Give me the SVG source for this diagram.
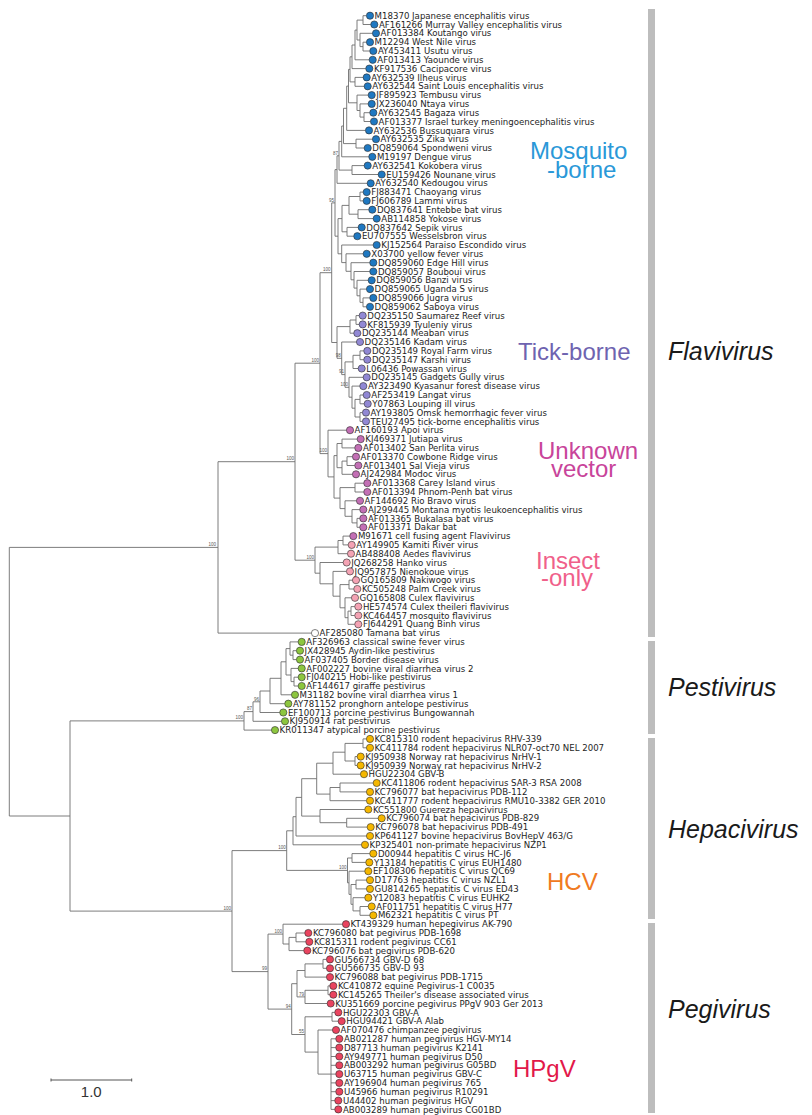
<svg xmlns="http://www.w3.org/2000/svg" width="812" height="1115" viewBox="0 0 812 1115">
<style>
.tree path{fill:none;stroke:#6e6e6e;stroke-width:0.9}
.leaf circle{stroke:#2a2a2a;stroke-width:0.6}
.leaf text{font-family:"DejaVu Sans",sans-serif;font-size:8.6px;fill:#1e1e1e}
.mb circle{fill:#1f78c1}
.tb circle{fill:#9188d4}
.uv circle{fill:#c36fb5}
.io circle{fill:#f4a3b4}
.tm circle{fill:#ffffff}
.pe circle{fill:#8dc63f}
.hc circle{fill:#f5b700}
.pg circle{fill:#e9445f}
.bs{font-family:"Liberation Sans",sans-serif;font-size:4.5px;fill:#555;text-anchor:end}
.grp{font-family:"Liberation Sans",sans-serif;font-size:24px}
.genus{font-family:"Liberation Sans",sans-serif;font-style:italic;font-size:25px;fill:#1a1a1a}
.bar{fill:#bdbdbd}
</style>
<rect width="812" height="1115" fill="#ffffff"/>
<g id="connectors" class="tree">
<path d="M366.4 15.7H363V24.5H370.7"/>
<path d="M366.4 42.2H363V51H369.7"/>
<path d="M372.4 33.3H360V46.6H363"/>
<path d="M363 20.1H357V40H360"/>
<path d="M357 30.1H355V59.8H369.1"/>
<path d="M355 45H352V68.6H365.7"/>
<path d="M363.1 77.4H355V86.3H364.1"/>
<path d="M352 56.8H350V81.9H355"/>
<path d="M369.7 112.7H364V121.5H370.4"/>
<path d="M368.1 103.9H360V117.1H364"/>
<path d="M368.1 95.1H357V110.5H360"/>
<path d="M350 69.4H348.5V102.8H357"/>
<path d="M348.5 86.1H346.7V130.4H365.4"/>
<path d="M372.4 139.2H356V148H364.1"/>
<path d="M346.7 108.3H343.5V143.6H356"/>
<path d="M343.5 126H341.7V156.8H368.7"/>
<path d="M364.1 165.6H352V174.5H378.1"/>
<path d="M341.7 141.4H339V170.1H352"/>
<path d="M339 155.8H337V183.3H367.1"/>
<path d="M363.1 192.1H360V200.9H363.1"/>
<path d="M368.7 209.7H358V218.6H373.1"/>
<path d="M358.1 227.4H347V236.2H353.7"/>
<path d="M360 196.5H349V214.2H358"/>
<path d="M349 205.4H342V231.8H347"/>
<path d="M369.7 297.9H363V306.8H366.4"/>
<path d="M366.4 289.1H360V302.4H363"/>
<path d="M368.1 280.3H357V295.8H360"/>
<path d="M369.7 271.5H354V288.1H357"/>
<path d="M369.7 262.7H351V279.8H354"/>
<path d="M363.1 253.8H346V271.3H351"/>
<path d="M373.1 245H341.7V262.6H346"/>
<path d="M342 218.6H338V253.8H341.7"/>
<path d="M337 169.6H335V236.2H338"/>
<path d="M359.1 315.6H356V324.4H359.1"/>
<path d="M356 320H350V333.2H353.7"/>
<path d="M363.7 350.9H360V359.7H363.7"/>
<path d="M360 355.3H353V368.5H358.1"/>
<path d="M363.1 395H360V403.8H364.1"/>
<path d="M362.4 412.6H360V421.4H362.4"/>
<path d="M360 399.4H355V417H360"/>
<path d="M359.7 386.1H352V408.2H355"/>
<path d="M363.1 377.3H349V397.2H352"/>
<path d="M353 361.9H345V387.3H349"/>
<path d="M356.4 342H341.7V374.6H345"/>
<path d="M350 326.6H337V358.3H341.7"/>
<path d="M335 202.9H331.7V342.5H337"/>
<path d="M357.1 439.1H342V447.9H354.7"/>
<path d="M352.4 456.7H347V465.5H354.7"/>
<path d="M347 461.1H342V474.3H352.4"/>
<path d="M342 443.5H337V467.7H342"/>
<path d="M363.7 483.2H355V492H363.7"/>
<path d="M359.7 518.4H357V527.3H359.7"/>
<path d="M359.7 509.6H352V522.9H357"/>
<path d="M356.4 500.8H345V516.3H352"/>
<path d="M355 487.6H340V508.6H345"/>
<path d="M337 455.6H334V498.1H340"/>
<path d="M346.4 430.2H328V476.9H334"/>
<path d="M331.7 272.7H320V453.6H328"/>
<path d="M349.7 536.1H343V544.9H348.1"/>
<path d="M343 540.5H338V553.7H347.4"/>
<path d="M352.4 580.2H349V589H353.7"/>
<path d="M354.7 606.6H351V615.5H354.7"/>
<path d="M351 611.1H348V624.3H354.7"/>
<path d="M351.4 597.8H345V617.7H348"/>
<path d="M349 584.6H340V607.8H345"/>
<path d="M346.4 571.4H333V596.2H340"/>
<path d="M343.1 562.5H320V583.8H333"/>
<path d="M338 547.1H315V573.2H320"/>
<path d="M320 363.2H295V560.2H315"/>
<path d="M295 461.7H218V633.1H311.4"/>
<path d="M296.4 650.7H293V659.6H296.4"/>
<path d="M298.1 641.9H290V655.2H293"/>
<path d="M298.1 677.2H294V686H298.1"/>
<path d="M298.1 668.4H291V681.6H294"/>
<path d="M290 648.6H286V675H291"/>
<path d="M286 661.8H281V694.8H291.4"/>
<path d="M281 678.3H270V703.7H284.7"/>
<path d="M270 691H260V712.5H279.7"/>
<path d="M260 701.8H253V721.3H281.4"/>
<path d="M253 711.6H244V730.1H271.4"/>
<path d="M366.4 738.9H363V747.8H366.4"/>
<path d="M357.1 756.6H355V765.4H357.1"/>
<path d="M363 743.4H345V761H355"/>
<path d="M345 752.2H333V774.2H360.4"/>
<path d="M373.1 783H340V791.9H366.4"/>
<path d="M340 787.5H330V800.7H366.4"/>
<path d="M333 763.2H316.7V794.1H330"/>
<path d="M378.1 818.3H346.7V827.1H367.1"/>
<path d="M364.7 809.5H320V822.7H346.7"/>
<path d="M316.7 778.7H301.7V816.1H320"/>
<path d="M301.7 797.4H296V836H366.4"/>
<path d="M296 816.7H293V844.8H361.4"/>
<path d="M369.7 853.6H352V862.4H365.7"/>
<path d="M366.4 880.1H356V888.9H366.4"/>
<path d="M368.1 906.5H360V915.3H369.7"/>
<path d="M364.7 897.7H353V910.9H360"/>
<path d="M356 884.5H351V904.3H353"/>
<path d="M364.7 871.2H349V894.4H351"/>
<path d="M352 858H347.5V882.8H349"/>
<path d="M293 830.8H286.7V870.4H347.5"/>
<path d="M304.7 933H296V941.8H305.7"/>
<path d="M296 937.4H289V950.6H303.7"/>
<path d="M342.4 924.2H283V944H289"/>
<path d="M326.4 959.4H323V968.3H326.4"/>
<path d="M323 963.9H305V977.1H326.4"/>
<path d="M329.7 985.9H328V994.7H329.7"/>
<path d="M328 990.3H305V1003.5H327.1"/>
<path d="M305 970.5H297V996.9H305"/>
<path d="M334.7 1012.4H332V1021.2H338.1"/>
<path d="M335.7 1038.8H331V1109.4H334.7M331 1047.6H335.7M331 1056.5H335.7M331 1065.3H335.7M331 1074.1H335.7M331 1082.9H335.7M331 1091.7H335.7M331 1100.6H334.7"/>
<path d="M332.4 1030H318V1074.1H331"/>
<path d="M332 1016.8H305V1052.1H318"/>
<path d="M297 983.7H291.7V1034.5H305"/>
<path d="M283 934.1H268V1009.1H291.7"/>
<path d="M286.7 850.6H232V971.6H268"/>
<path d="M244 720.9H70V911.1H232"/>
<path d="M218 547.4H9.3V816H70"/>
</g>
<g id="support-values">
<text class="bs" x="216" y="545.5">100</text>
<text class="bs" x="243" y="719">100</text>
<text class="bs" x="231" y="909.5">100</text>
<text class="bs" x="319" y="361.5">100</text>
<text class="bs" x="330.5" y="271">100</text>
<text class="bs" x="294" y="460">100</text>
<text class="bs" x="327" y="452">100</text>
<text class="bs" x="314" y="558.5">100</text>
<text class="bs" x="285.7" y="849">100</text>
<text class="bs" x="346.5" y="869">100</text>
<text class="bs" x="267" y="970">99</text>
<text class="bs" x="334" y="201.5">95</text>
<text class="bs" x="338" y="154.5">87</text>
<text class="bs" x="340.7" y="357">98</text>
<text class="bs" x="344" y="373">91</text>
<text class="bs" x="348" y="386">100</text>
<text class="bs" x="252" y="710">87</text>
<text class="bs" x="259" y="700.5">96</text>
<text class="bs" x="282" y="933">100</text>
<text class="bs" x="290.7" y="1008">94</text>
<text class="bs" x="304" y="1033">55</text>
<text class="bs" x="304" y="996">79</text>
</g>
<g id="leaves">
<g id="l0" class="leaf mb"><circle cx="370" cy="15.7" r="3.6"/><text x="374.6" y="18.8">M18370 Japanese encephalitis virus</text></g>
<g id="l1" class="leaf mb"><circle cx="374.3" cy="24.5" r="3.6"/><text x="378.9" y="27.6">AF161266 Murray Valley encephalitis virus</text></g>
<g id="l2" class="leaf mb"><circle cx="376" cy="33.3" r="3.6"/><text x="380.6" y="36.4">AF013384 Koutango virus</text></g>
<g id="l3" class="leaf mb"><circle cx="370" cy="42.2" r="3.6"/><text x="374.6" y="45.3">M12294 West Nile virus</text></g>
<g id="l4" class="leaf mb"><circle cx="373.3" cy="51" r="3.6"/><text x="377.9" y="54.1">AY453411 Usutu virus</text></g>
<g id="l5" class="leaf mb"><circle cx="372.7" cy="59.8" r="3.6"/><text x="377.3" y="62.9">AF013413 Yaounde virus</text></g>
<g id="l6" class="leaf mb"><circle cx="369.3" cy="68.6" r="3.6"/><text x="373.9" y="71.7">KF917536 Cacipacore virus</text></g>
<g id="l7" class="leaf mb"><circle cx="366.7" cy="77.4" r="3.6"/><text x="371.3" y="80.5">AY632539 Ilheus virus</text></g>
<g id="l8" class="leaf mb"><circle cx="367.7" cy="86.3" r="3.6"/><text x="372.3" y="89.4">AY632544 Saint Louis encephalitis virus</text></g>
<g id="l9" class="leaf mb"><circle cx="371.7" cy="95.1" r="3.6"/><text x="376.3" y="98.2">JF895923 Tembusu virus</text></g>
<g id="l10" class="leaf mb"><circle cx="371.7" cy="103.9" r="3.6"/><text x="376.3" y="107">JX236040 Ntaya virus</text></g>
<g id="l11" class="leaf mb"><circle cx="373.3" cy="112.7" r="3.6"/><text x="377.9" y="115.8">AY632545 Bagaza virus</text></g>
<g id="l12" class="leaf mb"><circle cx="374" cy="121.5" r="3.6"/><text x="378.6" y="124.6">AF013377 Israel turkey meningoencephalitis virus</text></g>
<g id="l13" class="leaf mb"><circle cx="369" cy="130.4" r="3.6"/><text x="373.6" y="133.5">AY632536 Bussuquara virus</text></g>
<g id="l14" class="leaf mb"><circle cx="376" cy="139.2" r="3.6"/><text x="380.6" y="142.3">AY632535 Zika virus</text></g>
<g id="l15" class="leaf mb"><circle cx="367.7" cy="148" r="3.6"/><text x="372.3" y="151.1">DQ859064 Spondweni virus</text></g>
<g id="l16" class="leaf mb"><circle cx="372.3" cy="156.8" r="3.6"/><text x="376.9" y="159.9">M19197 Dengue virus</text></g>
<g id="l17" class="leaf mb"><circle cx="367.7" cy="165.6" r="3.6"/><text x="372.3" y="168.7">AY632541 Kokobera virus</text></g>
<g id="l18" class="leaf mb"><circle cx="381.7" cy="174.5" r="3.6"/><text x="386.3" y="177.6">EU159426 Nounane virus</text></g>
<g id="l19" class="leaf mb"><circle cx="370.7" cy="183.3" r="3.6"/><text x="375.3" y="186.4">AY632540 Kedougou virus</text></g>
<g id="l20" class="leaf mb"><circle cx="366.7" cy="192.1" r="3.6"/><text x="371.3" y="195.2">FJ883471 Chaoyang virus</text></g>
<g id="l21" class="leaf mb"><circle cx="366.7" cy="200.9" r="3.6"/><text x="371.3" y="204">FJ606789 Lammi virus</text></g>
<g id="l22" class="leaf mb"><circle cx="372.3" cy="209.7" r="3.6"/><text x="376.9" y="212.8">DQ837641 Entebbe bat virus</text></g>
<g id="l23" class="leaf mb"><circle cx="376.7" cy="218.6" r="3.6"/><text x="381.3" y="221.7">AB114858 Yokose virus</text></g>
<g id="l24" class="leaf mb"><circle cx="361.7" cy="227.4" r="3.6"/><text x="366.3" y="230.5">DQ837642 Sepik virus</text></g>
<g id="l25" class="leaf mb"><circle cx="357.3" cy="236.2" r="3.6"/><text x="361.9" y="239.3">EU707555 Wesselsbron virus</text></g>
<g id="l26" class="leaf mb"><circle cx="376.7" cy="245" r="3.6"/><text x="381.3" y="248.1">KJ152564 Paraiso Escondido virus</text></g>
<g id="l27" class="leaf mb"><circle cx="366.7" cy="253.8" r="3.6"/><text x="371.3" y="256.9">X03700 yellow fever virus</text></g>
<g id="l28" class="leaf mb"><circle cx="373.3" cy="262.7" r="3.6"/><text x="377.9" y="265.8">DQ859060 Edge Hill virus</text></g>
<g id="l29" class="leaf mb"><circle cx="373.3" cy="271.5" r="3.6"/><text x="377.9" y="274.6">DQ859057 Bouboui virus</text></g>
<g id="l30" class="leaf mb"><circle cx="371.7" cy="280.3" r="3.6"/><text x="376.3" y="283.4">DQ859056 Banzi virus</text></g>
<g id="l31" class="leaf mb"><circle cx="370" cy="289.1" r="3.6"/><text x="374.6" y="292.2">DQ859065 Uganda S virus</text></g>
<g id="l32" class="leaf mb"><circle cx="373.3" cy="297.9" r="3.6"/><text x="377.9" y="301">DQ859066 Jugra virus</text></g>
<g id="l33" class="leaf mb"><circle cx="370" cy="306.8" r="3.6"/><text x="374.6" y="309.9">DQ859062 Saboya virus</text></g>
<g id="l34" class="leaf tb"><circle cx="362.7" cy="315.6" r="3.6"/><text x="367.3" y="318.7">DQ235150 Saumarez Reef virus</text></g>
<g id="l35" class="leaf tb"><circle cx="362.7" cy="324.4" r="3.6"/><text x="367.3" y="327.5">KF815939 Tyuleniy virus</text></g>
<g id="l36" class="leaf tb"><circle cx="357.3" cy="333.2" r="3.6"/><text x="361.9" y="336.3">DQ235144 Meaban virus</text></g>
<g id="l37" class="leaf tb"><circle cx="360" cy="342" r="3.6"/><text x="364.6" y="345.1">DQ235146 Kadam virus</text></g>
<g id="l38" class="leaf tb"><circle cx="367.3" cy="350.9" r="3.6"/><text x="371.9" y="354">DQ235149 Royal Farm virus</text></g>
<g id="l39" class="leaf tb"><circle cx="367.3" cy="359.7" r="3.6"/><text x="371.9" y="362.8">DQ235147 Karshi virus</text></g>
<g id="l40" class="leaf tb"><circle cx="361.7" cy="368.5" r="3.6"/><text x="366.3" y="371.6">L06436 Powassan virus</text></g>
<g id="l41" class="leaf tb"><circle cx="366.7" cy="377.3" r="3.6"/><text x="371.3" y="380.4">DQ235145 Gadgets Gully virus</text></g>
<g id="l42" class="leaf tb"><circle cx="363.3" cy="386.1" r="3.6"/><text x="367.9" y="389.2">AY323490 Kyasanur forest disease virus</text></g>
<g id="l43" class="leaf tb"><circle cx="366.7" cy="395" r="3.6"/><text x="371.3" y="398.1">AF253419 Langat virus</text></g>
<g id="l44" class="leaf tb"><circle cx="367.7" cy="403.8" r="3.6"/><text x="372.3" y="406.9">Y07863 Louping ill virus</text></g>
<g id="l45" class="leaf tb"><circle cx="366" cy="412.6" r="3.6"/><text x="370.6" y="415.7">AY193805 Omsk hemorrhagic fever virus</text></g>
<g id="l46" class="leaf tb"><circle cx="366" cy="421.4" r="3.6"/><text x="370.6" y="424.5">TEU27495 tick-borne encephalitis virus</text></g>
<g id="l47" class="leaf uv"><circle cx="350" cy="430.2" r="3.6"/><text x="354.6" y="433.3">AF160193 Apoi virus</text></g>
<g id="l48" class="leaf uv"><circle cx="360.7" cy="439.1" r="3.6"/><text x="365.3" y="442.2">KJ469371 Jutiapa virus</text></g>
<g id="l49" class="leaf uv"><circle cx="358.3" cy="447.9" r="3.6"/><text x="362.9" y="451">AF013402 San Perlita virus</text></g>
<g id="l50" class="leaf uv"><circle cx="356" cy="456.7" r="3.6"/><text x="360.6" y="459.8">AF013370 Cowbone Ridge virus</text></g>
<g id="l51" class="leaf uv"><circle cx="358.3" cy="465.5" r="3.6"/><text x="362.9" y="468.6">AF013401 Sal Vieja virus</text></g>
<g id="l52" class="leaf uv"><circle cx="356" cy="474.3" r="3.6"/><text x="360.6" y="477.4">AJ242984 Modoc virus</text></g>
<g id="l53" class="leaf uv"><circle cx="367.3" cy="483.2" r="3.6"/><text x="371.9" y="486.3">AF013368 Carey Island virus</text></g>
<g id="l54" class="leaf uv"><circle cx="367.3" cy="492" r="3.6"/><text x="371.9" y="495.1">AF013394 Phnom-Penh bat virus</text></g>
<g id="l55" class="leaf uv"><circle cx="360" cy="500.8" r="3.6"/><text x="364.6" y="503.9">AF144692 Rio Bravo virus</text></g>
<g id="l56" class="leaf uv"><circle cx="363.3" cy="509.6" r="3.6"/><text x="367.9" y="512.7">AJ299445 Montana myotis leukoencephalitis virus</text></g>
<g id="l57" class="leaf uv"><circle cx="363.3" cy="518.4" r="3.6"/><text x="367.9" y="521.5">AF013365 Bukalasa bat virus</text></g>
<g id="l58" class="leaf uv"><circle cx="363.3" cy="527.3" r="3.6"/><text x="367.9" y="530.4">AF013371 Dakar bat</text></g>
<g id="l59" class="leaf uv"><circle cx="353.3" cy="536.1" r="3.6"/><text x="357.9" y="539.2">M91671 cell fusing agent Flavivirus</text></g>
<g id="l60" class="leaf io"><circle cx="351.7" cy="544.9" r="3.6"/><text x="356.3" y="548">AY149905 Kamiti River virus</text></g>
<g id="l61" class="leaf io"><circle cx="351" cy="553.7" r="3.6"/><text x="355.6" y="556.8">AB488408 Aedes flavivirus</text></g>
<g id="l62" class="leaf io"><circle cx="346.7" cy="562.5" r="3.6"/><text x="351.3" y="565.6">JQ268258 Hanko virus</text></g>
<g id="l63" class="leaf io"><circle cx="350" cy="571.4" r="3.6"/><text x="354.6" y="574.5">JQ957875 Nienokoue virus</text></g>
<g id="l64" class="leaf io"><circle cx="356" cy="580.2" r="3.6"/><text x="360.6" y="583.3">GQ165809 Nakiwogo virus</text></g>
<g id="l65" class="leaf io"><circle cx="357.3" cy="589" r="3.6"/><text x="361.9" y="592.1">KC505248 Palm Creek virus</text></g>
<g id="l66" class="leaf io"><circle cx="355" cy="597.8" r="3.6"/><text x="359.6" y="600.9">GQ165808 Culex flavivirus</text></g>
<g id="l67" class="leaf io"><circle cx="358.3" cy="606.6" r="3.6"/><text x="362.9" y="609.7">HE574574 Culex theileri flavivirus</text></g>
<g id="l68" class="leaf io"><circle cx="358.3" cy="615.5" r="3.6"/><text x="362.9" y="618.6">KC464457 mosquito flavivirus</text></g>
<g id="l69" class="leaf io"><circle cx="358.3" cy="624.3" r="3.6"/><text x="362.9" y="627.4">FJ644291 Quang Binh virus</text></g>
<g id="l70" class="leaf tm"><circle cx="315" cy="633.1" r="3.6"/><text x="319.6" y="636.2">AF285080 Tamana bat virus</text></g>
<g id="l71" class="leaf pe"><circle cx="301.7" cy="641.9" r="3.6"/><text x="306.3" y="645">AF326963 classical swine fever virus</text></g>
<g id="l72" class="leaf pe"><circle cx="300" cy="650.7" r="3.6"/><text x="304.6" y="653.8">JX428945 Aydin-like pestivirus</text></g>
<g id="l73" class="leaf pe"><circle cx="300" cy="659.6" r="3.6"/><text x="304.6" y="662.7">AF037405 Border disease virus</text></g>
<g id="l74" class="leaf pe"><circle cx="301.7" cy="668.4" r="3.6"/><text x="306.3" y="671.5">AF002227 bovine viral diarrhea virus 2</text></g>
<g id="l75" class="leaf pe"><circle cx="301.7" cy="677.2" r="3.6"/><text x="306.3" y="680.3">FJ040215 Hobi-like pestivirus</text></g>
<g id="l76" class="leaf pe"><circle cx="301.7" cy="686" r="3.6"/><text x="306.3" y="689.1">AF144617 giraffe pestivirus</text></g>
<g id="l77" class="leaf pe"><circle cx="295" cy="694.8" r="3.6"/><text x="299.6" y="697.9">M31182 bovine viral diarrhea virus 1</text></g>
<g id="l78" class="leaf pe"><circle cx="288.3" cy="703.7" r="3.6"/><text x="292.9" y="706.8">AY781152 pronghorn antelope pestivirus</text></g>
<g id="l79" class="leaf pe"><circle cx="283.3" cy="712.5" r="3.6"/><text x="287.9" y="715.6">EF100713 porcine pestivirus Bungowannah</text></g>
<g id="l80" class="leaf pe"><circle cx="285" cy="721.3" r="3.6"/><text x="289.6" y="724.4">KJ950914 rat pestivirus</text></g>
<g id="l81" class="leaf pe"><circle cx="275" cy="730.1" r="3.6"/><text x="279.6" y="733.2">KR011347 atypical porcine pestivirus</text></g>
<g id="l82" class="leaf hc"><circle cx="370" cy="738.9" r="3.6"/><text x="374.6" y="742">KC815310 rodent hepacivirus RHV-339</text></g>
<g id="l83" class="leaf hc"><circle cx="370" cy="747.8" r="3.6"/><text x="374.6" y="750.9">KC411784 rodent hepacivirus NLR07-oct70 NEL 2007</text></g>
<g id="l84" class="leaf hc"><circle cx="360.7" cy="756.6" r="3.6"/><text x="365.3" y="759.7">KJ950938 Norway rat hepacivirus NrHV-1</text></g>
<g id="l85" class="leaf hc"><circle cx="360.7" cy="765.4" r="3.6"/><text x="365.3" y="768.5">KJ950939 Norway rat hepacivirus NrHV-2</text></g>
<g id="l86" class="leaf hc"><circle cx="364" cy="774.2" r="3.6"/><text x="368.6" y="777.3">HGU22304 GBV-B</text></g>
<g id="l87" class="leaf hc"><circle cx="376.7" cy="783" r="3.6"/><text x="381.3" y="786.1">KC411806 rodent hepacivirus SAR-3 RSA 2008</text></g>
<g id="l88" class="leaf hc"><circle cx="370" cy="791.9" r="3.6"/><text x="374.6" y="795">KC796077 bat hepacivirus PDB-112</text></g>
<g id="l89" class="leaf hc"><circle cx="370" cy="800.7" r="3.6"/><text x="374.6" y="803.8">KC411777 rodent hepacivirus RMU10-3382 GER 2010</text></g>
<g id="l90" class="leaf hc"><circle cx="368.3" cy="809.5" r="3.6"/><text x="372.9" y="812.6">KC551800 Guereza hepacivirus</text></g>
<g id="l91" class="leaf hc"><circle cx="381.7" cy="818.3" r="3.6"/><text x="386.3" y="821.4">KC796074 bat hepacivirus PDB-829</text></g>
<g id="l92" class="leaf hc"><circle cx="370.7" cy="827.1" r="3.6"/><text x="375.3" y="830.2">KC796078 bat hepacivirus PDB-491</text></g>
<g id="l93" class="leaf hc"><circle cx="370" cy="836" r="3.6"/><text x="374.6" y="839.1">KP641127 bovine hepacivirus BovHepV 463/G</text></g>
<g id="l94" class="leaf hc"><circle cx="365" cy="844.8" r="3.6"/><text x="369.6" y="847.9">KP325401 non-primate hepacivirus NZP1</text></g>
<g id="l95" class="leaf hc"><circle cx="373.3" cy="853.6" r="3.6"/><text x="377.9" y="856.7">D00944 hepatitis C virus HC-J6</text></g>
<g id="l96" class="leaf hc"><circle cx="369.3" cy="862.4" r="3.6"/><text x="373.9" y="865.5">Y13184 hepatitis C virus EUH1480</text></g>
<g id="l97" class="leaf hc"><circle cx="368.3" cy="871.2" r="3.6"/><text x="372.9" y="874.3">EF108306 hepatitis C virus QC69</text></g>
<g id="l98" class="leaf hc"><circle cx="370" cy="880.1" r="3.6"/><text x="374.6" y="883.2">D17763 hepatitis C virus NZL1</text></g>
<g id="l99" class="leaf hc"><circle cx="370" cy="888.9" r="3.6"/><text x="374.6" y="892">GU814265 hepatitis C virus ED43</text></g>
<g id="l100" class="leaf hc"><circle cx="368.3" cy="897.7" r="3.6"/><text x="372.9" y="900.8">Y12083 hepatitis C virus EUHK2</text></g>
<g id="l101" class="leaf hc"><circle cx="371.7" cy="906.5" r="3.6"/><text x="376.3" y="909.6">AF011751 hepatitis C virus H77</text></g>
<g id="l102" class="leaf hc"><circle cx="373.3" cy="915.3" r="3.6"/><text x="377.9" y="918.4">M62321 hepatitis C virus PT</text></g>
<g id="l103" class="leaf pg"><circle cx="346" cy="924.2" r="3.6"/><text x="350.6" y="927.3">KT439329 human hepegivirus AK-790</text></g>
<g id="l104" class="leaf pg"><circle cx="308.3" cy="933" r="3.6"/><text x="312.9" y="936.1">KC796080 bat pegivirus PDB-1698</text></g>
<g id="l105" class="leaf pg"><circle cx="309.3" cy="941.8" r="3.6"/><text x="313.9" y="944.9">KC815311 rodent pegivirus CC61</text></g>
<g id="l106" class="leaf pg"><circle cx="307.3" cy="950.6" r="3.6"/><text x="311.9" y="953.7">KC796076 bat pegivirus PDB-620</text></g>
<g id="l107" class="leaf pg"><circle cx="330" cy="959.4" r="3.6"/><text x="334.6" y="962.5">GU566734 GBV-D 68</text></g>
<g id="l108" class="leaf pg"><circle cx="330" cy="968.3" r="3.6"/><text x="334.6" y="971.4">GU566735 GBV-D 93</text></g>
<g id="l109" class="leaf pg"><circle cx="330" cy="977.1" r="3.6"/><text x="334.6" y="980.2">KC796088 bat pegivirus PDB-1715</text></g>
<g id="l110" class="leaf pg"><circle cx="333.3" cy="985.9" r="3.6"/><text x="337.9" y="989">KC410872 equine Pegivirus-1 C0035</text></g>
<g id="l111" class="leaf pg"><circle cx="333.3" cy="994.7" r="3.6"/><text x="337.9" y="997.8">KC145265 Theiler's disease associated virus</text></g>
<g id="l112" class="leaf pg"><circle cx="330.7" cy="1003.5" r="3.6"/><text x="335.3" y="1006.6">KU351669 porcine pegivirus PPgV 903 Ger 2013</text></g>
<g id="l113" class="leaf pg"><circle cx="338.3" cy="1012.4" r="3.6"/><text x="342.9" y="1015.5">HGU22303 GBV-A</text></g>
<g id="l114" class="leaf pg"><circle cx="341.7" cy="1021.2" r="3.6"/><text x="346.3" y="1024.3">HGU94421 GBV-A Alab</text></g>
<g id="l115" class="leaf pg"><circle cx="336" cy="1030" r="3.6"/><text x="340.6" y="1033.1">AF070476 chimpanzee pegivirus</text></g>
<g id="l116" class="leaf pg"><circle cx="339.3" cy="1038.8" r="3.6"/><text x="343.9" y="1041.9">AB021287 human pegivirus HGV-MY14</text></g>
<g id="l117" class="leaf pg"><circle cx="339.3" cy="1047.6" r="3.6"/><text x="343.9" y="1050.7">D87713 human pegivirus K2141</text></g>
<g id="l118" class="leaf pg"><circle cx="339.3" cy="1056.5" r="3.6"/><text x="343.9" y="1059.6">AY949771 human pegivirus D50</text></g>
<g id="l119" class="leaf pg"><circle cx="339.3" cy="1065.3" r="3.6"/><text x="343.9" y="1068.4">AB003292 human pegivirus G05BD</text></g>
<g id="l120" class="leaf pg"><circle cx="339.3" cy="1074.1" r="3.6"/><text x="343.9" y="1077.2">U63715 human pegivirus GBV-C</text></g>
<g id="l121" class="leaf pg"><circle cx="339.3" cy="1082.9" r="3.6"/><text x="343.9" y="1086">AY196904 human pegivirus 765</text></g>
<g id="l122" class="leaf pg"><circle cx="339.3" cy="1091.7" r="3.6"/><text x="343.9" y="1094.8">U45966 human pegivirus R10291</text></g>
<g id="l123" class="leaf pg"><circle cx="338.3" cy="1100.6" r="3.6"/><text x="342.9" y="1103.7">U44402 human pegivirus HGV</text></g>
<g id="l124" class="leaf pg"><circle cx="338.3" cy="1109.4" r="3.6"/><text x="342.9" y="1112.5">AB003289 human pegivirus CG01BD</text></g>
</g>
<g id="group-labels">
<text class="grp" fill="#2a98d8"><tspan x="530" y="159">Mosquito</tspan><tspan x="547" y="178">-borne</tspan></text>
<text class="grp" x="518" y="360" fill="#6e63b0">Tick-borne</text>
<text class="grp" fill="#c8449a"><tspan x="538" y="459">Unknown</tspan><tspan x="551" y="477">vector</tspan></text>
<text class="grp" fill="#f0608a"><tspan x="536" y="569">Insect</tspan><tspan x="541" y="586">-only</tspan></text>
<text class="grp" x="547" y="890" fill="#f07a22">HCV</text>
<text class="grp" x="513" y="1076.7" fill="#e2184a">HPgV</text>
</g>
<g id="genus-bars">
<rect class="bar" x="648" y="9" width="7" height="628"/>
<rect class="bar" x="648" y="641" width="7" height="93"/>
<rect class="bar" x="648" y="738" width="7" height="181"/>
<rect class="bar" x="648" y="923" width="7" height="190"/>
<text class="genus" x="668" y="360">Flavivirus</text>
<text class="genus" x="668" y="696">Pestivirus</text>
<text class="genus" x="668" y="838">Hepacivirus</text>
<text class="genus" x="668" y="1018">Pegivirus</text>
</g>
<g id="scale-bar">
<path d="M51 1080H131.7M51 1078.5V1081.5M131.7 1078.5V1081.5" fill="none" stroke="#555" stroke-width="1"/>
<text x="91.3" y="1097" text-anchor="middle" font-family="Liberation Sans, sans-serif" font-size="15" fill="#333">1.0</text>
</g>
</svg>
